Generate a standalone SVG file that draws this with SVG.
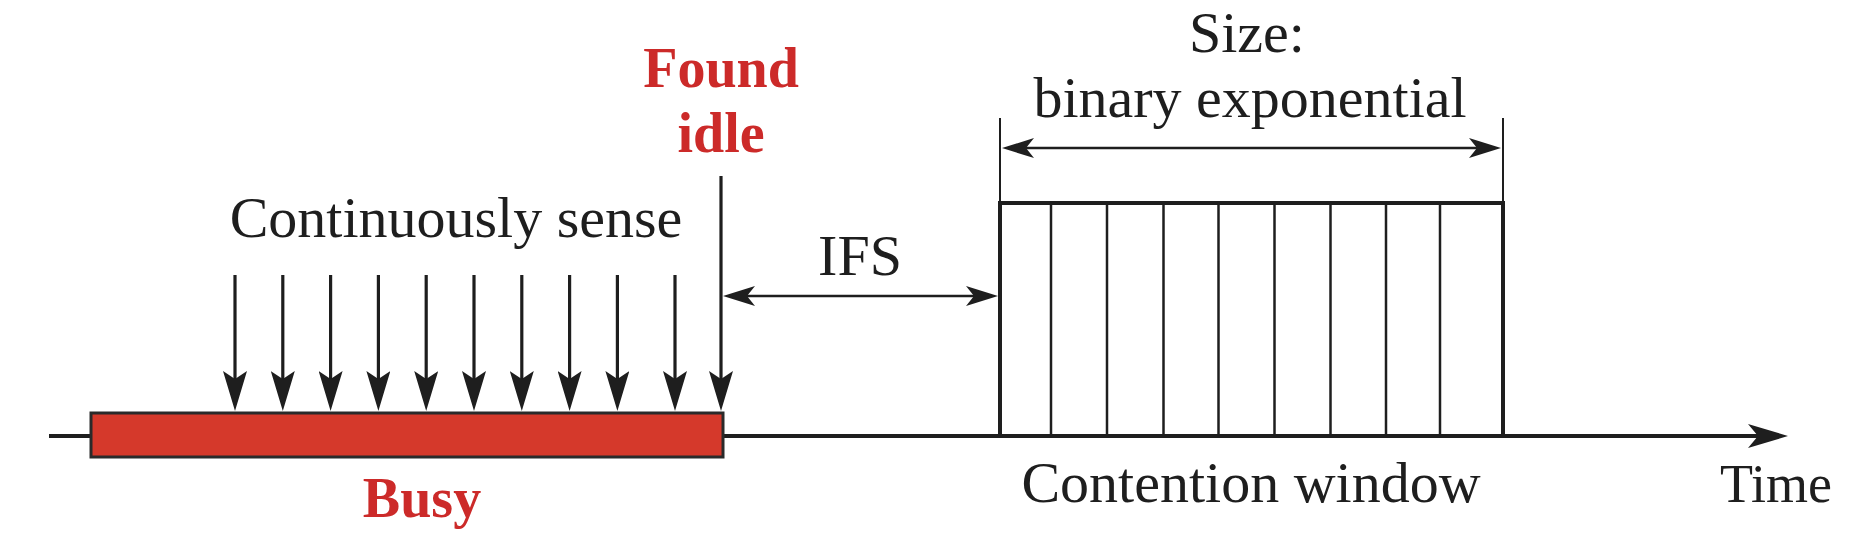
<svg xmlns="http://www.w3.org/2000/svg" width="1868" height="538" viewBox="0 0 1868 538">
<style>
  .t { font-family: "Liberation Serif", "Times New Roman", serif; font-size: 58px; fill: #1e1e1e; text-anchor: middle; }
  .r { font-family: "Liberation Serif", "Times New Roman", serif; font-size: 56px; font-weight: bold; fill: #cc2a29; text-anchor: middle; }
  .ln { stroke: #1e1e1e; fill: none; }
</style>
<defs>
  <marker id="down" markerUnits="userSpaceOnUse" viewBox="0 0 40 24" refX="30" refY="12" markerWidth="40" markerHeight="24" orient="auto">
    <path d="M0,0 L40,12 L0,24 L8,12 Z" fill="#1e1e1e"/>
  </marker>
  <marker id="sm" markerUnits="userSpaceOnUse" viewBox="0 0 32 20" refX="22" refY="10" markerWidth="32" markerHeight="20" orient="auto-start-reverse">
    <path d="M0,0 L32,10 L0,20 L8,10 Z" fill="#1e1e1e"/>
  </marker>
  <marker id="big" markerUnits="userSpaceOnUse" viewBox="0 0 40 24" refX="30" refY="12" markerWidth="40" markerHeight="24" orient="auto">
    <path d="M0,0 L40,12 L0,24 L10,12 Z" fill="#1e1e1e"/>
  </marker>
</defs>
<rect width="1868" height="538" fill="#ffffff"/>

<g id="connectors">
  <line id="time-axis" class="ln" x1="49" y1="436" x2="1778" y2="436" stroke-width="4" marker-end="url(#big)"/>
  <g id="sense-arrows" class="ln" stroke-width="3.2" marker-end="url(#down)">
    <line x1="235" y1="275" x2="235" y2="401"/>
    <line x1="282.8" y1="275" x2="282.8" y2="401"/>
    <line x1="330.6" y1="275" x2="330.6" y2="401"/>
    <line x1="378.4" y1="275" x2="378.4" y2="401"/>
    <line x1="426.2" y1="275" x2="426.2" y2="401"/>
    <line x1="474" y1="275" x2="474" y2="401"/>
    <line x1="521.8" y1="275" x2="521.8" y2="401"/>
    <line x1="569.6" y1="275" x2="569.6" y2="401"/>
    <line x1="617.4" y1="275" x2="617.4" y2="401"/>
    <line x1="675" y1="275" x2="675" y2="401"/>
    <line x1="721" y1="176" x2="721" y2="401"/>
  </g>
  <line id="ifs-arrow" class="ln" x1="733" y1="296" x2="988" y2="296" stroke-width="2.5" marker-start="url(#sm)" marker-end="url(#sm)"/>
  <line class="ln" x1="1000" y1="118" x2="1000" y2="203" stroke-width="2"/>
  <line class="ln" x1="1503" y1="118" x2="1503" y2="203" stroke-width="2"/>
  <line id="size-arrow" class="ln" x1="1012" y1="148" x2="1491" y2="148" stroke-width="2.5" marker-start="url(#sm)" marker-end="url(#sm)"/>
</g>

<g id="busy">
  <rect x="91" y="413" width="632" height="44" fill="#d5392b" stroke="#2a2a2a" stroke-width="3"/>
  <text class="r" x="422" y="517">Busy</text>
</g>

<g id="found-idle">
  <text class="r" x="721" y="87">Found</text>
  <text class="r" x="721" y="152">idle</text>
</g>

<g id="continuously-sense">
  <text class="t" x="456" y="237">Continuously sense</text>
</g>

<g id="ifs">
  <text class="t" x="860" y="275">IFS</text>
</g>

<g id="contention-window">
  <g class="ln" stroke-width="2.5">
    <line x1="1051" y1="203" x2="1051" y2="436"/>
    <line x1="1107" y1="203" x2="1107" y2="436"/>
    <line x1="1163.5" y1="203" x2="1163.5" y2="436"/>
    <line x1="1218.5" y1="203" x2="1218.5" y2="436"/>
    <line x1="1274.5" y1="203" x2="1274.5" y2="436"/>
    <line x1="1330.5" y1="203" x2="1330.5" y2="436"/>
    <line x1="1386" y1="203" x2="1386" y2="436"/>
    <line x1="1440" y1="203" x2="1440" y2="436"/>
  </g>
  <rect class="ln" x="1000" y="203" width="503" height="233" stroke-width="4"/>
  <text class="t" x="1251" y="502">Contention window</text>
</g>

<g id="size-label">
  <text class="t" x="1247" y="52">Size:</text>
  <text class="t" x="1250" y="117">binary exponential</text>
</g>

<g id="time-label">
  <text class="t" x="1776" y="502" style="font-size:54px">Time</text>
</g>
</svg>
